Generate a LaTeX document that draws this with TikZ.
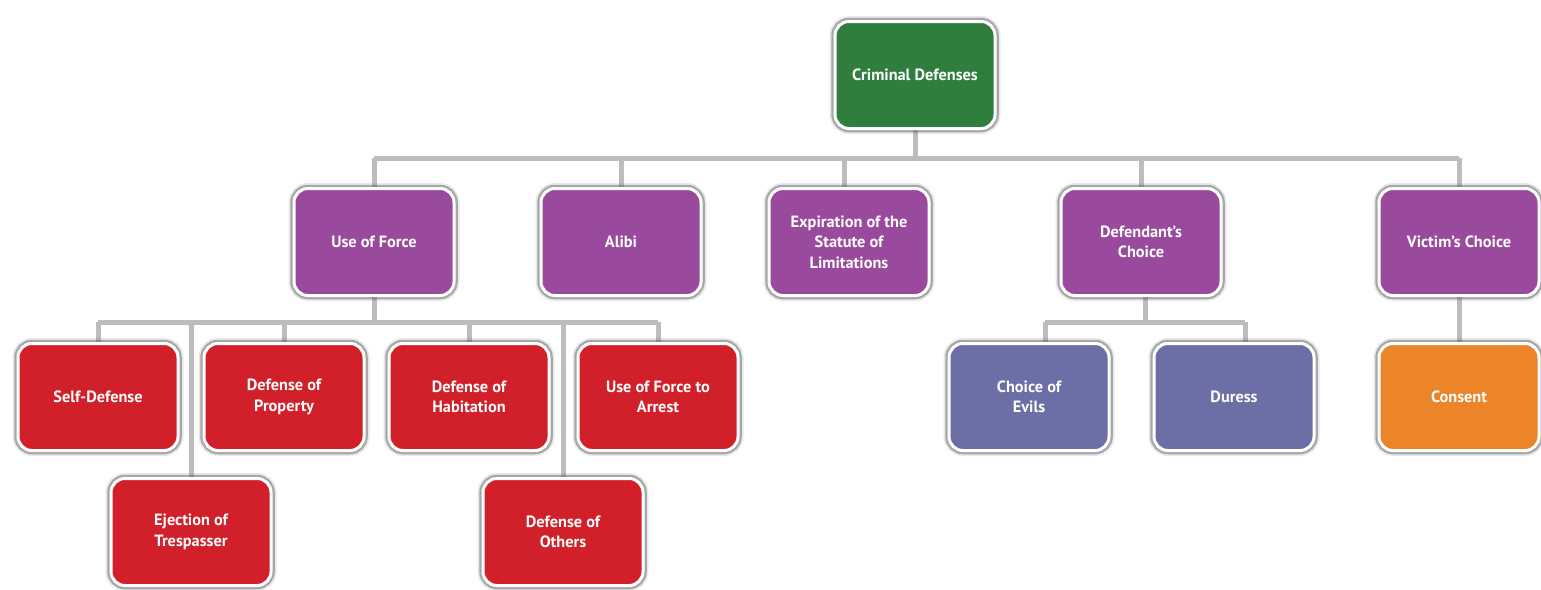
\documentclass[tikz,border=0pt]{standalone}
\usepackage{fontspec}
\setmainfont{PT Sans}
\pgfdeclarelayer{bg}
\pgfsetlayers{bg,main}
\definecolor{cgreen}{HTML}{2F7E3E}
\definecolor{cpurple}{HTML}{9A4A9C}
\definecolor{cred}{HTML}{D2202A}
\definecolor{cblue}{HTML}{6C6EA6}
\definecolor{corange}{HTML}{EC8429}
\definecolor{lgray}{HTML}{BCBCBC}
\begin{document}
\begin{tikzpicture}[x=1pt,y=-1pt,
  box/.style={rounded corners=14pt, draw=white, line width=3pt,
    minimum width=160pt, minimum height=107pt, inner sep=2pt,
    align=center, text=white,
    font=\fontsize{16.3}{20.5}\selectfont\bfseries,
    preaction={draw=black!50, line width=11pt, opacity=0.18},
    preaction={draw=black!65, line width=7.5pt, opacity=0.45}},
  conn/.style={draw=lgray, line width=5pt},
  green/.style={box, fill=cgreen},
  purple/.style={box, fill=cpurple},
  red/.style={box, fill=cred},
  blue/.style={box, fill=cblue},
  orange/.style={box, fill=corange}]
\useasboundingbox (0,0) rectangle (1541,589);

\node[green] (root) at (915,75) {Criminal Defenses};

\node[purple] (uof) at (374,242) {Use of Force};
\node[purple] (alibi) at (621,242) {Alibi};
\node[purple] (exp) at (849,242) {Expiration of the\\Statute of\\Limitations};
\node[purple] (dc) at (1141,242) {Defendant’s\\Choice};
\node[purple] (vc) at (1459,242) {Victim’s Choice};

\node[red] (sd) at (98,397) {Self-Defense};
\node[red] (dp) at (284,397) {Defense of\\Property};
\node[red] (dh) at (469,397) {Defense of\\Habitation};
\node[red] (ufa) at (658,397) {Use of Force to\\Arrest};
\node[red] (ej) at (191,532) {Ejection of\\Trespasser};
\node[red] (do) at (563,532) {Defense of\\Others};

\node[blue] (coe) at (1029,397) {Choice of\\Evils};
\node[blue] (dur) at (1234,397) {Duress};
\node[orange] (con) at (1459,397) {Consent};

\coordinate (b1) at (0,158);
\coordinate (b2) at (0,322);
\coordinate (xexp) at ([xshift=-5pt]exp.north);
\coordinate (xdc) at ([xshift=4pt]dc.south);
\coordinate (xcoe) at ([xshift=16pt]coe.north);
\coordinate (xdur) at ([xshift=11pt]dur.north);

\begin{pgfonlayer}{bg}
\fill[white] (0,0) rectangle (1541,589);
\draw[conn] (root) -- (root |- b1);
\draw[conn] (uof |- b1) -- (vc |- b1);
\foreach \n in {uof,alibi,vc} \draw[conn] (\n |- b1) -- (\n);
\draw[conn] (xexp |- b1) -- (xexp);
\draw[conn] (dc |- b1) -- (dc);
% Use of Force group
\draw[conn] (uof) -- (uof |- b2);
\draw[conn] (sd |- b2) -- (ufa |- b2);
\foreach \n in {sd,dp,dh,ufa,ej,do} \draw[conn] (\n |- b2) -- (\n);
% Defendant's Choice group
\draw[conn] (xdc) -- (xdc |- b2);
\draw[conn] (xcoe |- b2) -- (xdur |- b2);
\draw[conn] (xcoe |- b2) -- (xcoe);
\draw[conn] (xdur |- b2) -- (xdur);
% Victim's Choice
\draw[conn] (vc) -- (con);
\end{pgfonlayer}
\end{tikzpicture}
\end{document}
